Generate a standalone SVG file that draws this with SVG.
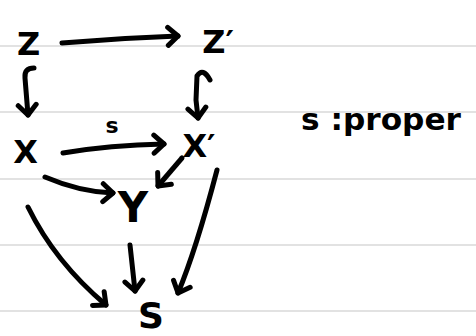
<svg xmlns="http://www.w3.org/2000/svg" width="476" height="336" viewBox="0 0 476 336">
  <style>
    .rule { stroke: #e2e2e2; stroke-width: 2; }
    .lbl { font-family: "DejaVu Sans", "Liberation Sans", sans-serif; font-weight: bold; fill: #000; text-anchor: middle; }
    .edge { fill: none; stroke: #000; stroke-width: 5; stroke-linecap: round; stroke-linejoin: round; }
  </style>
  <defs>
    <marker id="head" viewBox="-14 -12 18 24" markerWidth="18" markerHeight="24" refX="0" refY="0" orient="auto" markerUnits="userSpaceOnUse">
      <path d="M-10,-9 L0,0 L-10,9" fill="none" stroke="#000" stroke-width="5" stroke-linecap="round" stroke-linejoin="round"/>
    </marker>
  </defs>
  <rect width="476" height="336" fill="#fff"/>
  <!-- notebook ruling -->
  <g id="ruling">
    <line class="rule" x1="0" y1="46" x2="476" y2="46"/>
    <line class="rule" x1="0" y1="112" x2="476" y2="112"/>
    <line class="rule" x1="0" y1="179" x2="476" y2="179"/>
    <line class="rule" x1="0" y1="245" x2="476" y2="245"/>
    <line class="rule" x1="0" y1="311" x2="476" y2="311"/>
  </g>
  <g id="connectors">
    <path class="edge" d="M62,43 Q120,38 178,36" marker-end="url(#head)"/>
    <path class="edge" d="M34,68 Q24,68 25,78 L28,115" marker-end="url(#head)"/>
    <path class="edge" d="M210,80 Q203,67 197,76 L196,100 L198,118" marker-end="url(#head)"/>
    <path class="edge" d="M63,153 Q110,145 164,144" marker-end="url(#head)"/>
    <path class="edge" d="M45,177 Q80,192 113,193" marker-end="url(#head)"/>
    <path class="edge" d="M182,158 L158,186" marker-end="url(#head)"/>
    <path class="edge" d="M130,245 L135,291" marker-end="url(#head)"/>
    <path class="edge" d="M28,207 Q55,262 106,305" marker-end="url(#head)"/>
    <path class="edge" d="M217,170 Q196,250 178,293" marker-end="url(#head)"/>
    <text class="lbl" x="112" y="133" font-size="22">s</text>
  </g>
  <g id="Z"><text class="lbl" x="28.5" y="55" font-size="32">Z</text></g>
  <g id="Zp"><text class="lbl" x="218" y="53" font-size="32">Z′</text></g>
  <g id="X"><text class="lbl" x="25.5" y="163" font-size="32">X</text></g>
  <g id="Xp"><text class="lbl" x="199" y="157" font-size="32">X′</text></g>
  <g id="Y"><text class="lbl" x="133" y="222" font-size="42">Y</text></g>
  <g id="S"><text class="lbl" x="151" y="328" font-size="36">S</text></g>
  <g id="note"><text class="lbl" x="381" y="130" font-size="30" textLength="160" lengthAdjust="spacingAndGlyphs">s :proper</text></g>
</svg>
